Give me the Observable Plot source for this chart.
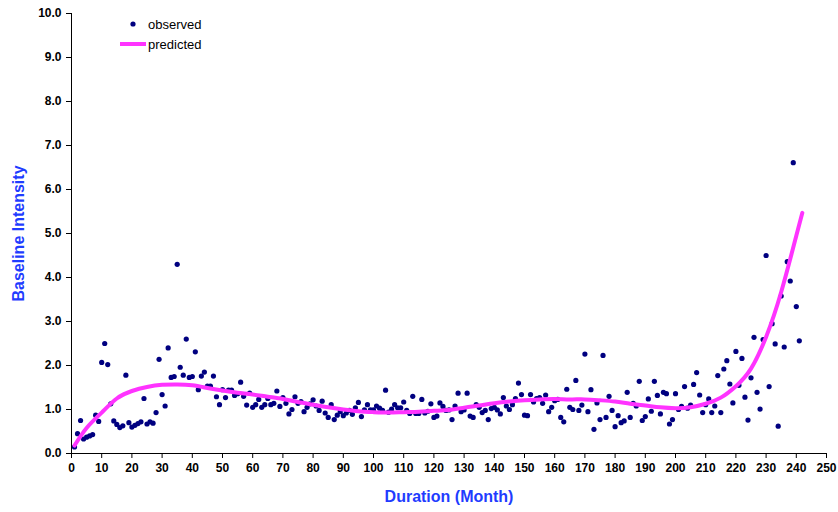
<!DOCTYPE html>
<html>
<head>
<meta charset="utf-8">
<script src="https://cdn.jsdelivr.net/npm/d3@7"></script>
<script src="https://cdn.jsdelivr.net/npm/@observablehq/plot@0.6"></script>
<style>
  body { margin: 0; background: #fff; font-family: "Liberation Sans", Arial, sans-serif; }
  #chart { position: relative; width: 838px; height: 512px; }
  #legend { position: absolute; left: 110px; top: 12px; }
  #legend text { font-family: "Liberation Sans", Arial, sans-serif; font-size: 13px; fill: #000; }
</style>
</head>
<body>
<div id="chart"></div>
<script>
// Observed baseline intensity, one value per month starting at month 1
const observed = [
  0.15, 0.45, 0.75, 0.33, 0.37, 0.40, 0.43, 0.87, 0.73, 2.07,
  2.50, 2.02, 1.13, 0.74, 0.66, 0.59, 0.63, 1.78, 0.70, 0.60,
  0.64, 0.68, 0.72, 1.25, 0.67, 0.72, 0.69, 0.93, 2.14, 1.34,
  1.08, 2.40, 1.73, 1.75, 4.30, 1.96, 1.78, 2.60, 1.73, 1.75,
  2.31, 1.45, 1.76, 1.85, 1.53, 1.53, 1.76, 1.29, 1.11, 1.45,
  1.27, 1.44, 1.44, 1.32, 1.36, 1.62, 1.30, 1.10, 1.37, 1.05,
  1.11, 1.23, 1.05, 1.11, 1.25, 1.11, 1.14, 1.42, 1.07, 1.27,
  1.14, 0.90, 1.00, 1.29, 1.14, 1.18, 0.95, 1.05, 1.13, 1.22,
  1.08, 0.98, 1.19, 0.92, 0.82, 1.11, 0.77, 0.87, 0.95, 0.86,
  0.92, 0.98, 0.89, 1.04, 1.16, 0.84, 0.99, 1.11, 0.99, 0.99,
  1.08, 1.03, 0.98, 1.44, 0.94, 1.01, 1.11, 1.04, 1.04, 1.17,
  0.98, 0.91, 1.30, 0.91, 0.91, 1.23, 0.92, 0.96, 1.13, 0.82,
  0.85, 1.15, 1.07, 0.98, 0.99, 0.77, 1.08, 1.37, 0.95, 0.99,
  1.37, 0.85, 0.82, 1.11, 1.05, 0.93, 0.98, 0.77, 1.02, 1.05,
  0.99, 0.90, 1.27, 1.08, 1.00, 1.11, 1.25, 1.60, 1.34, 0.87,
  0.86, 1.34, 1.17, 1.25, 1.27, 1.14, 1.33, 0.95, 1.05, 1.20,
  1.23, 0.82, 0.72, 1.46, 1.05, 1.00, 1.66, 0.98, 1.10, 2.26,
  0.95, 1.45, 0.55, 1.15, 0.77, 2.23, 0.82, 1.30, 0.98, 0.61,
  0.86, 0.70, 0.74, 1.39, 0.82, 1.14, 1.08, 1.64, 0.75, 0.84,
  1.24, 0.96, 1.64, 1.32, 0.90, 1.39, 1.36, 0.67, 0.77, 1.36,
  1.00, 1.07, 1.52, 1.03, 1.10, 1.57, 1.84, 1.33, 0.93, 1.11,
  1.24, 0.93, 1.08, 1.77, 0.93, 1.92, 2.11, 1.58, 1.15, 2.32,
  1.55, 2.16, 1.28, 0.76, 1.72, 2.64, 1.39, 1.01, 2.59, 4.50,
  1.52, 2.95, 2.49, 0.62, 3.58, 2.42, 4.36, 3.92, 6.61, 3.34,
  2.56
];

// Fitted (predicted) curve, sampled along the duration axis
const predictedMonths = [
  1, 5, 10, 15, 20, 25, 30, 35, 40, 45,
  50, 55, 60, 65, 70, 75, 80, 85, 90, 95,
  100, 105, 110, 115, 120, 125, 130, 135, 140, 145,
  150, 155, 160, 165, 170, 175, 180, 185, 190, 195,
  200, 205, 210, 215, 220, 225, 230, 235, 240, 242
];
const predictedValues = [
  0.18, 0.58, 0.93, 1.25, 1.42, 1.51, 1.56, 1.57, 1.55, 1.49,
  1.43, 1.38, 1.34, 1.29, 1.24, 1.17, 1.11, 1.05, 1.00, 0.96,
  0.94, 0.93, 0.94, 0.95, 0.97, 0.99, 1.04, 1.09, 1.14, 1.18,
  1.21, 1.23, 1.24, 1.23, 1.23, 1.21, 1.18, 1.13, 1.09, 1.05,
  1.03, 1.05, 1.13, 1.27, 1.53, 1.93, 2.65, 3.67, 4.95, 5.47
];

const xTicks = [0, 10, 20, 30, 40, 50, 60, 70, 80, 90, 100, 110, 120, 130, 140, 150, 160, 170, 180, 190, 200, 210, 220, 230, 240, 250];
const yTicks = [0, 1, 2, 3, 4, 5, 6, 7, 8, 9, 10];

const xTitle = "Duration (Month)";
const yTitle = "Baseline Intensity";

const observedData = observed.map((value, i) => ({month: i + 1, value}));
const predictedData = predictedMonths.map((month, i) => ({month, value: predictedValues[i]}));

const titleColor = "#1f3cff";

const chart = Plot.plot({
  width: 838,
  height: 512,
  marginLeft: 71,
  marginRight: 12,
  marginTop: 13,
  marginBottom: 59,
  style: {
    fontFamily: "'Liberation Sans', Arial, sans-serif",
    fontSize: "12px",
    fontWeight: "bold",
    color: "#000",
    background: "#fff"
  },
  x: {domain: [0, 250]},
  y: {domain: [0, 10]},
  marks: [
    Plot.axisX({ticks: xTicks, tickSize: 5, tickPadding: 5, label: null, stroke: "#000"}),
    Plot.axisY({ticks: yTicks, tickSize: 5, tickPadding: 5, tickFormat: d3.format(".1f"), label: null, stroke: "#000"}),
    Plot.ruleX([0], {stroke: "#000"}),
    Plot.ruleY([0], {stroke: "#000"}),
    Plot.dot(observedData, {x: "month", y: "value", r: 2.6, fill: "#000080", stroke: null}),
    Plot.line(predictedData, {x: "month", y: "value", stroke: "#ff33ff", strokeWidth: 4, curve: "natural"}),
    Plot.text([xTitle], {text: d => d, frameAnchor: "bottom", dy: 43, textAnchor: "middle", lineAnchor: "middle", fill: titleColor, fontSize: 16, fontWeight: "bold"}),
    Plot.text([yTitle], {text: d => d, frameAnchor: "left", dx: -53, rotate: -90, textAnchor: "middle", lineAnchor: "middle", fill: titleColor, fontSize: 16, fontWeight: "bold"})
  ]
});

const root = document.getElementById("chart");
root.appendChild(chart);

// Legend in the upper-left corner of the plotting area
const legend = d3.select(root).append("svg")
  .attr("id", "legend")
  .attr("width", 110)
  .attr("height", 44);
legend.append("circle").attr("cx", 23).attr("cy", 12).attr("r", 2.6).attr("fill", "#000080");
legend.append("text").attr("x", 38).attr("y", 12).attr("dy", "0.35em").text("observed");
legend.append("line").attr("x1", 10).attr("x2", 36).attr("y1", 32).attr("y2", 32)
  .attr("stroke", "#ff33ff").attr("stroke-width", 4);
legend.append("text").attr("x", 38).attr("y", 32).attr("dy", "0.35em").text("predicted");
</script>
</body>
</html>
